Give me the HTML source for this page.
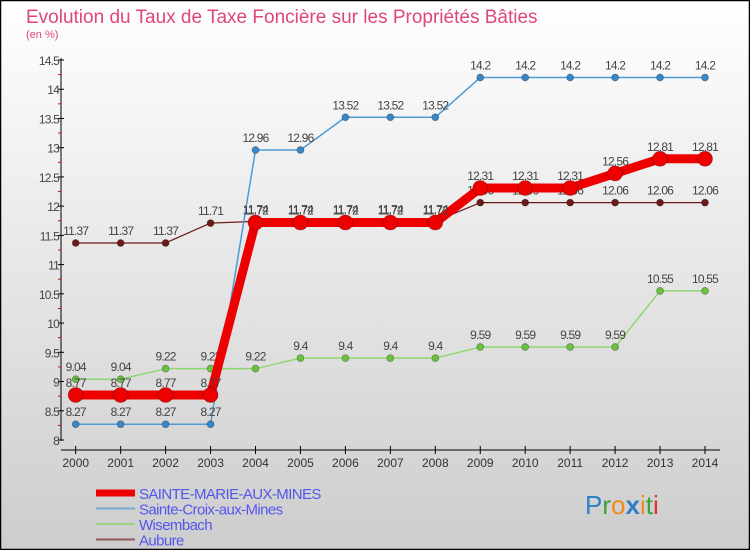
<!DOCTYPE html>
<html><head><meta charset="utf-8"><style>
body{margin:0;width:750px;height:550px;overflow:hidden;font-family:"Liberation Sans",sans-serif}
svg{display:block}
</style></head><body>
<svg id="chart" width="750" height="550" xmlns="http://www.w3.org/2000/svg">
<defs><linearGradient id="bg" x1="0" y1="0" x2="0" y2="1"><stop offset="0" stop-color="#ffffff"/><stop offset="1" stop-color="#cdcdcd"/></linearGradient></defs>
<rect x="0.5" y="0.5" width="749" height="549" fill="url(#bg)" stroke="#000" stroke-width="1.5"/>
<text x="26" y="23" font-size="19" fill="#e0457b">Evolution du Taux de Taxe Foncière sur les Propriétés Bâties</text>
<text x="26" y="38" font-size="11" fill="#e0457b">(en %)</text>
<g id="axes"></g>
<g id="series"></g>
<g id="legend"></g>
<g font-size="26" font-family="Liberation Sans,sans-serif">
<text x="585" y="514"><tspan fill="#2f7fc8">P</tspan><tspan fill="#3aa03a">r</tspan><tspan fill="#f08a1a">o</tspan><tspan fill="#2f7fc8" font-weight="bold">x</tspan><tspan fill="#f08a1a">i</tspan><tspan fill="#3aa03a">t</tspan><tspan fill="#e03030">i</tspan></text>
</g>
</svg>
<script>
const years=[2000,2001,2002,2003,2004,2005,2006,2007,2008,2009,2010,2011,2012,2013,2014];
const yTicks=[8,8.5,9,9.5,10,10.5,11,11.5,12,12.5,13,13.5,14,14.5];
const sainteMarie=[8.77,8.77,8.77,8.77,11.72,11.72,11.72,11.72,11.72,12.31,12.31,12.31,12.56,12.81,12.81];
const sainteCroix=[8.27,8.27,8.27,8.27,12.96,12.96,13.52,13.52,13.52,14.2,14.2,14.2,14.2,14.2,14.2];
const wisembach=[9.04,9.04,9.22,9.22,9.22,9.4,9.4,9.4,9.4,9.59,9.59,9.59,9.59,10.55,10.55];
const aubure=[11.37,11.37,11.37,11.71,11.74,11.74,11.74,11.74,11.74,12.06,12.06,12.06,12.06,12.06,12.06];
const NS='http://www.w3.org/2000/svg';
const x=i=>75.7+i*(705-75.7)/(years.length-1);
const y=v=>440-(v-8)*(380/6.5);
function el(t,a,p){const e=document.createElementNS(NS,t);for(const k in a)e.setAttribute(k,a[k]);p.appendChild(e);return e;}
const axes=document.getElementById('axes');
const yAxis=el('line',{x1:61,y1:58,x2:61,y2:441,stroke:'#000','stroke-width':1},axes);


const xAxis=el('line',{x1:61,y1:450,x2:720,y2:450,stroke:'#000','stroke-width':1},axes);


yTicks.forEach((v,i)=>{
  el('line',{x1:58,y1:y(v),x2:64,y2:y(v),stroke:'#000'},axes);
  if(i<yTicks.length-1)el('line',{x1:58,y1:y(v+0.25),x2:61,y2:y(v+0.25),stroke:'#e00'},axes);
  const t=el('text',{x:59,y:y(v)+5,'font-size':12,'text-anchor':'end',fill:'#444','letter-spacing':'-0.8'},axes);
  t.textContent=String(v);
  
  
});
years.forEach((yr,i)=>{
  el('line',{x1:x(i),y1:446,x2:x(i),y2:454,stroke:'#000'},axes);
  const t=el('text',{x:x(i),y:467,'font-size':12,'text-anchor':'middle',fill:'#333'},axes);
  t.textContent=yr;
  
  
});
const S=document.getElementById('series');
const defs=[
 {d:aubure,c:'#6b1a1a',w:1.2,r:3.5,n:'aubure'},
 {d:wisembach,c:'#8fd870',mc:'#6cc040',w:1.5,r:3.5,n:'wisembach'},
 {d:sainteCroix,c:'#4d9bd6',mc:'#3a86c4',w:1.5,r:3.5,n:'sainte-croix-aux-mines'},
 {d:sainteMarie,c:'#ee0000',w:9,r:7.5,n:'sainte-marie-aux-mines'}
];
defs.forEach(s=>{
  const g=el('g',{},S);
  
  
  const l=el('polyline',{points:s.d.map((v,i)=>x(i)+','+y(v)).join(' '),fill:'none',stroke:s.c,'stroke-width':s.w,'stroke-linejoin':'round'},g);
  
  
  s.d.forEach((v,i)=>{
    const p=el('circle',{cx:x(i),cy:y(v),r:s.r,fill:s.mc||s.c,stroke:'rgba(0,0,0,0.3)','stroke-width':0.8},g);
    
    
    const t=el('text',{x:x(i),y:y(v)-8,'font-size':12,'text-anchor':'middle',fill:'#444','letter-spacing':'-0.8'},g);
    t.textContent=String(v);
    
    
  });
});
const L=document.getElementById('legend');
const leg=[['SAINTE-MARIE-AUX-MINES','#ee0000',7],['Sainte-Croix-aux-Mines','#7aa9cc',2],['Wisembach','#9ad47e',2],['Aubure','#8a5a5a',2]];
leg.forEach((e,i)=>{
  const yy=493+i*15.5;
  const ln=el('line',{x1:96,y1:yy,x2:135,y2:yy,stroke:e[1],'stroke-width':e[2]},L);
  
  
  const t=el('text',{x:139,y:yy+6,'font-size':15,fill:'#5555ee','letter-spacing':'-0.6'},L);
  t.textContent=e[0];
  
  
});
</script>
</body></html>
